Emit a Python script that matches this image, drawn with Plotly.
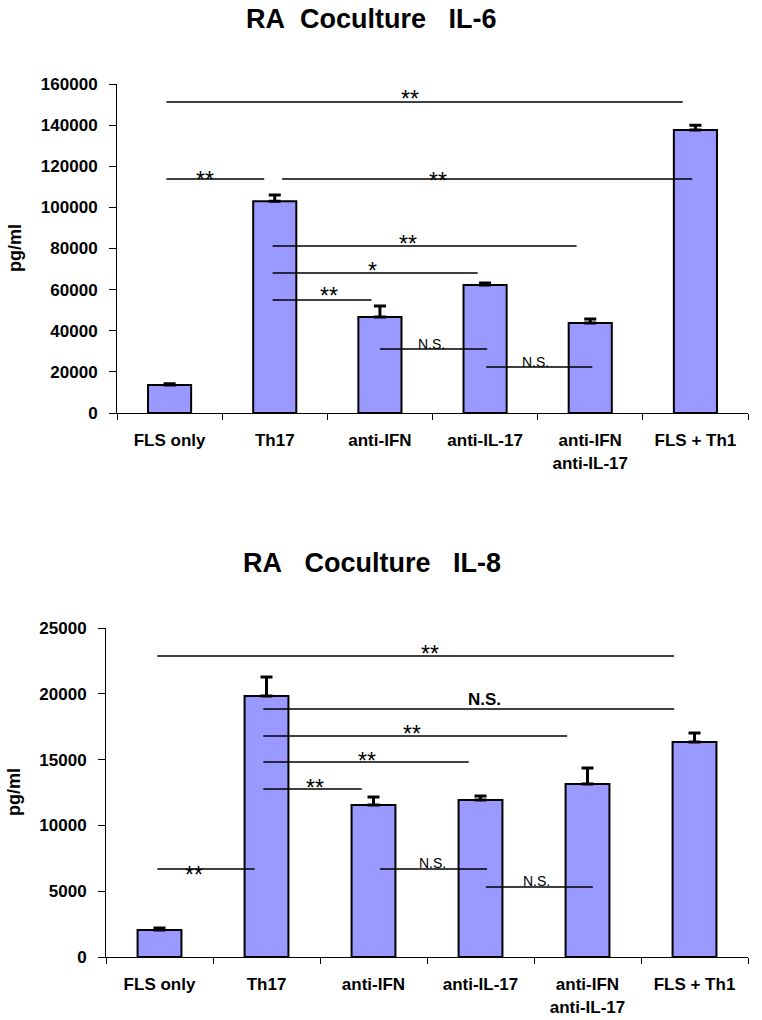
import plotly.graph_objects as go

FONT = "Liberation Sans, Arial, sans-serif"
NB = "\u00a0"

categories = ["FLS only", "Th17", "anti-IFN", "anti-IL-17", "anti-IFN<br>anti-IL-17", "FLS + Th1"]

il6_values = [13600, 103000, 46700, 62200, 43800, 137600]
il6_errors = [600, 3000, 5300, 1000, 1900, 2400]

il8_values = [2050, 19830, 11550, 11930, 13140, 16340]
il8_errors = [150, 1440, 610, 300, 1220, 680]

# significance brackets: (x_start, x_end, y) in category-index / data units
il6_lines = [(-0.03, 4.88, 151200), (-0.03, 0.90, 113800), (1.07, 4.97, 113800),
             (0.98, 3.87, 81200), (0.98, 2.93, 68100), (0.98, 1.92, 55000),
             (2.0, 3.02, 31100), (3.01, 4.02, 22400)]
# labels: (text, x, y, style)
il6_labels = [("**", 2.29, 155600, "star"), ("**", 0.34, 116200, "star"), ("**", 2.55, 115700, "star"),
              ("**", 2.27, 85100, "star"), ("*", 1.93, 72000, "star"), ("**", 1.52, 59800, "star"),
              ("N.S.", 2.49, 33600, "ns"), ("N.S.", 3.48, 24800, "ns")]

il8_lines = [(-0.02, 4.81, 22870), (0.97, 4.81, 18850), (0.97, 3.81, 16790),
             (0.97, 2.89, 14820), (0.97, 1.89, 12770), (-0.02, 0.89, 6690),
             (2.06, 3.06, 6690), (3.05, 4.05, 5320)]
il8_labels = [("**", 2.53, 23480, "star"), ("N.S.", 3.04, 19530, "nsbold"), ("**", 2.36, 17400, "star"),
              ("**", 1.94, 15350, "star"), ("**", 1.45, 13300, "star"), ("**", 0.32, 6690, "star"),
              ("N.S.", 2.55, 7140, "ns"), ("N.S.", 3.52, 5775, "ns")]

title_il6 = "RA" + NB * 2 + "Coculture" + NB * 3 + "IL-6"
title_il8 = "RA" + NB * 3 + "Coculture" + NB * 3 + "IL-8"

BAR_COLOR = "#9999FF"

W, H = 762, 1020

def fx(px):
    return px / W

def fy(py):
    return 1 - py / H

fig = go.Figure()

def add_bars(values, errors, xa, ya):
    fig.add_trace(go.Bar(
        x=categories, y=values, xaxis=xa, yaxis=ya, width=0.41,
        marker=dict(color=BAR_COLOR, line=dict(color="black", width=2)),
        error_y=dict(type="data", array=errors, arrayminus=[0] * len(errors), symmetric=False,
                     color="black", thickness=3, width=6),
        showlegend=False, hoverinfo="skip"))

add_bars(il6_values, il6_errors, "x", "y")
add_bars(il8_values, il8_errors, "x2", "y2")

shapes = []
annotations = []

def add_sig(lines, labels, xr, yr):
    for x0, x1, y in lines:
        shapes.append(dict(type="line", xref=xr, yref=yr, x0=x0, x1=x1, y0=y, y1=y,
                           line=dict(color="black", width=1.5)))
    for text, x, y, style in labels:
        if style == "star":
            f = dict(family=FONT, size=23, color="black")
            ys = -6
        elif style == "ns":
            f = dict(family=FONT, size=14, color="black")
            ys = 0
        else:
            f = dict(family=FONT, size=17, color="black")
            text = "<b>" + text + "</b>"
            ys = 0
        annotations.append(dict(text=text, x=x, y=y, xref=xr, yref=yr, showarrow=False,
                                font=f, xanchor="center", yanchor="middle", yshift=ys))

add_sig(il6_lines, il6_labels, "x", "y")
add_sig(il8_lines, il8_labels, "x2", "y2")

annotations += [
    dict(text="<b>" + title_il6 + "</b>", x=fx(371), y=fy(19), xref="paper", yref="paper",
         showarrow=False, font=dict(family=FONT, size=27, color="black"), xanchor="center", yanchor="middle"),
    dict(text="<b>" + title_il8 + "</b>", x=fx(372), y=fy(563), xref="paper", yref="paper",
         showarrow=False, font=dict(family=FONT, size=27, color="black"), xanchor="center", yanchor="middle"),
    dict(text="<b>pg/ml</b>", x=fx(15), y=fy(248), xref="paper", yref="paper", textangle=-90,
         showarrow=False, font=dict(family=FONT, size=18, color="black"), xanchor="center", yanchor="middle"),
    dict(text="<b>pg/ml</b>", x=fx(14), y=fy(792), xref="paper", yref="paper", textangle=-90,
         showarrow=False, font=dict(family=FONT, size=18, color="black"), xanchor="center", yanchor="middle"),
]

tickfont = dict(family=FONT, size=17, color="black")

def xaxis(dom, anchor):
    return dict(domain=dom, anchor=anchor, type="category", tickson="boundaries", ticks="outside",
                ticklen=6, tickcolor="black", showline=True, linecolor="black", linewidth=1,
                tickfont=tickfont, showgrid=False, zeroline=False, range=[-0.5, 5.5],
                tickprefix="<b>", ticksuffix="</b>", ticklabelstandoff=12, automargin=False)

def yaxis(dom, anchor, rng, dt):
    return dict(domain=dom, anchor=anchor, range=rng, dtick=dt, ticks="outside", ticklen=7,
                tickcolor="black", showline=True, linecolor="black", linewidth=1,
                tickfont=tickfont, showgrid=False, zeroline=False, tickformat="d",
                tickprefix="<b>", ticksuffix="</b>", ticklabelstandoff=8, automargin=False)

fig.update_layout(
    width=W, height=H, autosize=False,
    margin=dict(l=0, r=0, t=0, b=0, autoexpand=False),
    paper_bgcolor="white", plot_bgcolor="white",
    font=dict(family=FONT, color="black"),
    xaxis=xaxis([fx(117), fx(748)], "y"),
    yaxis=yaxis([fy(413), fy(84)], "x", [0, 160000], 20000),
    xaxis2=xaxis([fx(106), fx(748)], "y2"),
    yaxis2=yaxis([fy(957), fy(628)], "x2", [0, 25000], 5000),
    shapes=shapes, annotations=annotations, bargap=0.59,
)

# remove the browser's default 8px body margin so the 762x1020 figure fills the window
fig.write_html("out.html",
               config={"displayModeBar": False, "staticPlot": True},
               post_script="document.body.style.margin='0';document.body.style.padding='0';document.body.style.overflow='hidden';")
